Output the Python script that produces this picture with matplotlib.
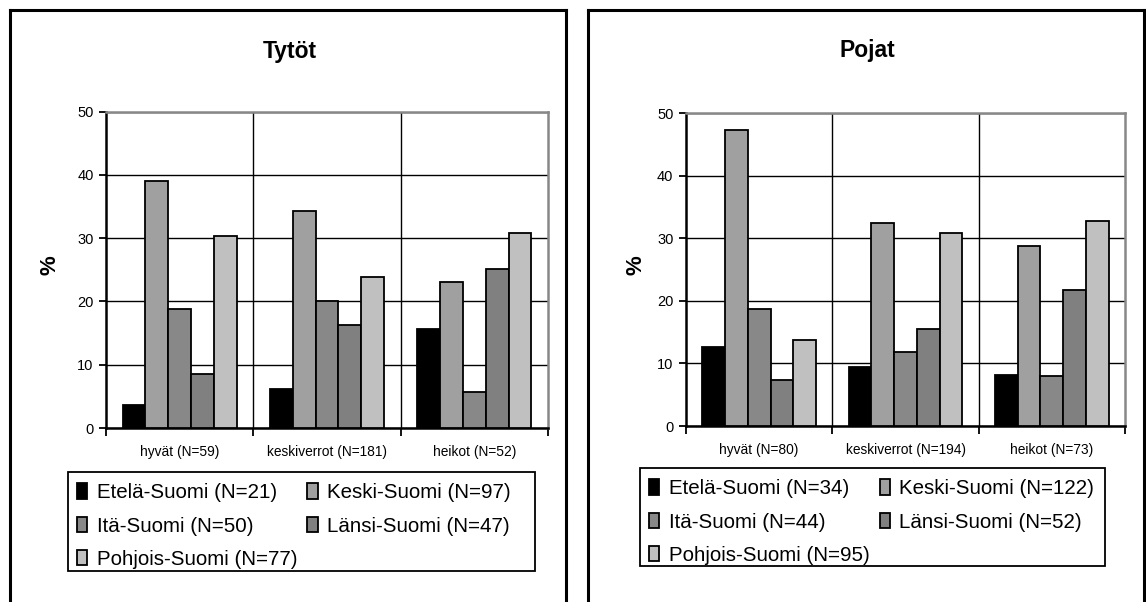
import matplotlib
matplotlib.use("Agg")
import matplotlib.pyplot as plt
import numpy as np
from matplotlib.lines import Line2D
from matplotlib.patches import Rectangle

plt.rcParams['font.family'] = ['Liberation Sans', 'DejaVu Sans']

series = ["Etelä-Suomi", "Keski-Suomi", "Itä-Suomi", "Länsi-Suomi", "Pohjois-Suomi"]
colors = ["#000000", "#a0a0a0", "#888888", "#808080", "#c0c0c0"]

girls_title = "Tytöt"
girls_categories = ["hyvät (N=59)", "keskiverrot (N=181)", "heikot (N=52)"]
girls_n = [21, 97, 50, 47, 77]
girls_etela = [3.6, 6.1, 15.6]
girls_keski = [39.0, 34.3, 23.1]
girls_ita = [18.8, 20.0, 5.7]
girls_lansi = [8.6, 16.2, 25.1]
girls_pohjois = [30.4, 23.8, 30.8]

boys_title = "Pojat"
boys_categories = ["hyvät (N=80)", "keskiverrot (N=194)", "heikot (N=73)"]
boys_n = [34, 122, 44, 52, 95]
boys_etela = [12.6, 9.4, 8.2]
boys_keski = [47.4, 32.4, 28.8]
boys_ita = [18.7, 11.9, 8.0]
boys_lansi = [7.4, 15.5, 21.8]
boys_pohjois = [13.8, 30.8, 32.7]

yticks = [0, 10, 20, 30, 40, 50]

W, H = 1146, 602
fig = plt.figure(figsize=(W / 100, H / 100), dpi=100)


def fx(px):
    return px / W


def fy(py):
    return 1 - py / H


def panel(rect_px, box_px, title, title_xy, pct_xy, cats, values, ns, legend_px):
    x0, y0, x1, y1 = rect_px
    ax = fig.add_axes([fx(x0), fy(y1), fx(x1) - fx(x0), fy(y0) - fy(y1)])
    ax.set_xlim(0, 3)
    ax.set_ylim(0, 50)
    bw = 0.155
    centers = np.arange(3) + 0.5
    handles = []
    for i, (vals, col) in enumerate(zip(values, colors)):
        xs = centers + (i - 2) * bw
        b = ax.bar(xs, vals, width=bw, color=col, edgecolor="black",
                   linewidth=1.3, zorder=3)
        handles.append(b)
    ax.set_yticks(yticks)
    ax.set_yticklabels([str(t) for t in yticks], fontsize=10.5)
    ax.yaxis.grid(True, color="black", linewidth=1.0, zorder=1)
    ax.set_xticks([0, 1, 2, 3])
    ax.set_xticklabels([])
    ax.set_xticks(centers, minor=True)
    ax.set_xticklabels(cats, minor=True, fontsize=9.9)
    ax.tick_params(axis="x", which="minor", length=0, pad=12)
    ax.tick_params(axis="x", which="major", direction="out", length=6, width=1.3)
    ax.tick_params(axis="y", direction="out", length=5, width=1.3, pad=4)
    for xv in [1, 2]:
        ax.axvline(xv, color="black", linewidth=1.0, zorder=1)
    ax.set_axisbelow(True)
    ax.spines["left"].set_linewidth(1.8)
    ax.spines["bottom"].set_linewidth(1.8)
    ax.spines["top"].set_color("#888888")
    ax.spines["right"].set_color("#888888")
    ax.spines["top"].set_linewidth(1.8)
    ax.spines["right"].set_linewidth(1.8)

    fig.text(fx(title_xy[0]), fy(title_xy[1]), title, fontsize=16.5,
             fontweight="bold", ha="center", va="baseline")
    fig.text(fx(pct_xy[0]), fy(pct_xy[1]), "%", fontsize=16,
             fontweight="bold", ha="center", va="center", rotation=90)

    labels = [f"{s} (N={n})" for s, n in zip(series, ns)]
    order = [0, 2, 4, 1, 3]
    lx0, ly0, lx1, ly1 = legend_px
    fig.add_artist(Rectangle((fx(lx0), fy(ly1)), fx(lx1) - fx(lx0), fy(ly0) - fy(ly1),
                             transform=fig.transFigure, facecolor="white",
                             edgecolor="black", linewidth=1.3, zorder=1))
    leg = fig.legend([handles[k] for k in order], [labels[k] for k in order],
                     ncol=2, fontsize=14.8,
                     loc="upper left",
                     bbox_to_anchor=(fx(lx0 + 3), fy(ly0 + 5)),
                     frameon=False, borderpad=0.3,
                     handlelength=0.5, handleheight=0.75, handletextpad=0.45,
                     labelspacing=0.7, columnspacing=0.5, borderaxespad=0)
    leg.set_zorder(2)

    bx0, by0, bx1 = box_px
    for xs, ys in [([bx0, bx0], [by0, H + 5]), ([bx0, bx1], [by0, by0]),
                   ([bx1, bx1], [by0, H + 5])]:
        fig.add_artist(Line2D([fx(v) for v in xs], [fy(v) for v in ys],
                              color="black", linewidth=2.2,
                              transform=fig.transFigure))
    return ax


panel((106, 111.5, 548, 428), (9.5, 10, 565.5), girls_title, (290, 58), (50, 265),
      girls_categories,
      [girls_etela, girls_keski, girls_ita, girls_lansi, girls_pohjois],
      girls_n, (68, 472, 535, 571))

panel((686, 113.3, 1125, 426), (588, 10, 1143.5), boys_title, (867, 57), (636, 265),
      boys_categories,
      [boys_etela, boys_keski, boys_ita, boys_lansi, boys_pohjois],
      boys_n, (640, 468, 1105, 566))

fig.savefig("out.png", dpi=100)
